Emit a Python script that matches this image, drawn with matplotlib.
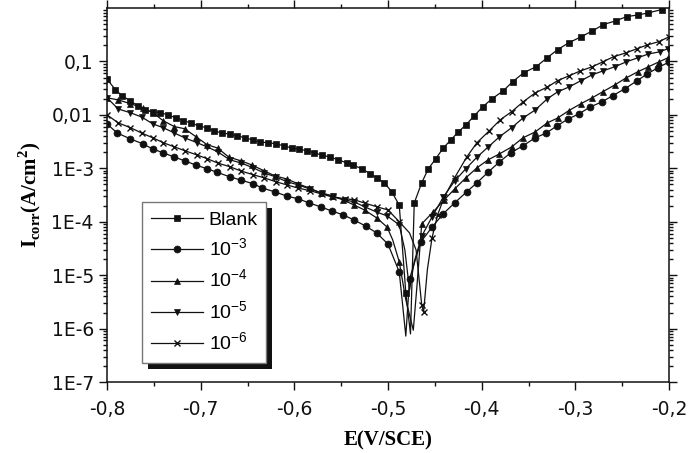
import numpy as np
import matplotlib
matplotlib.use("Agg")
import matplotlib.pyplot as plt
from matplotlib.ticker import FixedLocator, FixedFormatter, LogLocator, NullFormatter, MultipleLocator
from matplotlib.patches import Rectangle

plt.rcParams['mathtext.fontset'] = 'custom'
plt.rcParams['mathtext.rm'] = 'Liberation Sans'
plt.rcParams['mathtext.bf'] = 'Liberation Serif:bold'

# potentiel (V/SCE) et log10 du courant (A/cm2)
e_blank = [-0.800, -0.791, -0.784, -0.775, -0.767, -0.759, -0.751, -0.743, -0.735, -0.726,
           -0.719, -0.710, -0.702, -0.693, -0.686, -0.677, -0.669, -0.661, -0.653, -0.644,
           -0.637, -0.628, -0.620, -0.611, -0.603, -0.595, -0.587, -0.579, -0.571, -0.562,
           -0.553, -0.544, -0.537, -0.528, -0.519, -0.512, -0.504, -0.496, -0.488, -0.481,
           -0.476, -0.472, -0.464, -0.457, -0.449, -0.441, -0.433, -0.425, -0.417, -0.408,
           -0.399, -0.389, -0.377, -0.367, -0.355, -0.342, -0.330, -0.319, -0.307, -0.294,
           -0.282, -0.270, -0.257, -0.245, -0.233, -0.222, -0.208]
log_blank = [-1.33, -1.53, -1.64, -1.74, -1.83, -1.91, -1.94, -1.96, -2.00, -2.06,
             -2.11, -2.15, -2.21, -2.24, -2.30, -2.34, -2.36, -2.39, -2.43, -2.47,
             -2.51, -2.52, -2.54, -2.58, -2.62, -2.64, -2.67, -2.71, -2.75, -2.79,
             -2.84, -2.90, -2.94, -3.01, -3.10, -3.18, -3.27, -3.44, -3.69, -5.33,
             -6.10, -3.65, -3.27, -3.01, -2.82, -2.62, -2.47, -2.32, -2.19, -2.02,
             -1.85, -1.70, -1.55, -1.38, -1.21, -1.10, -0.93, -0.78, -0.65, -0.54,
             -0.43, -0.31, -0.24, -0.16, -0.13, -0.09, -0.03]

e_3 = [-0.800, -0.789, -0.775, -0.762, -0.751, -0.740, -0.728, -0.717, -0.705, -0.693,
       -0.683, -0.669, -0.657, -0.644, -0.634, -0.621, -0.608, -0.596, -0.584, -0.572,
       -0.560, -0.548, -0.536, -0.524, -0.512, -0.500, -0.488, -0.481, -0.477, -0.465,
       -0.453, -0.441, -0.429, -0.416, -0.405, -0.393, -0.381, -0.369, -0.356, -0.343,
       -0.331, -0.320, -0.308, -0.296, -0.284, -0.272, -0.260, -0.247, -0.234, -0.223,
       -0.212, -0.200]
log_3 = [-2.17, -2.34, -2.45, -2.54, -2.64, -2.71, -2.79, -2.86, -2.94, -3.01,
         -3.07, -3.16, -3.22, -3.29, -3.37, -3.44, -3.52, -3.57, -3.65, -3.72,
         -3.80, -3.87, -3.97, -4.08, -4.21, -4.42, -4.94, -6.14, -5.07, -4.38,
         -4.10, -3.85, -3.65, -3.44, -3.27, -3.07, -2.88, -2.71, -2.58, -2.43,
         -2.34, -2.21, -2.08, -1.98, -1.85, -1.76, -1.64, -1.51, -1.36, -1.23,
         -1.12, -1.01]

e_4 = [-0.800, -0.788, -0.775, -0.762, -0.751, -0.740, -0.728, -0.717, -0.705, -0.693,
       -0.682, -0.670, -0.657, -0.645, -0.632, -0.621, -0.608, -0.596, -0.584, -0.572,
       -0.560, -0.548, -0.536, -0.525, -0.512, -0.501, -0.495, -0.488, -0.481, -0.473,
       -0.469, -0.464, -0.452, -0.440, -0.429, -0.417, -0.405, -0.393, -0.381, -0.368,
       -0.356, -0.343, -0.330, -0.319, -0.307, -0.294, -0.282, -0.271, -0.258, -0.246,
       -0.233, -0.222, -0.211, -0.201]
log_4 = [-1.68, -1.72, -1.79, -1.87, -1.96, -2.11, -2.22, -2.26, -2.41, -2.56,
         -2.62, -2.79, -2.86, -2.94, -3.05, -3.14, -3.20, -3.29, -3.37, -3.46,
         -3.52, -3.59, -3.69, -3.78, -3.93, -4.10, -4.34, -4.75, -5.46, -6.03,
         -5.18, -4.04, -3.82, -3.59, -3.39, -3.18, -2.99, -2.84, -2.73, -2.60,
         -2.43, -2.32, -2.15, -2.06, -1.92, -1.79, -1.68, -1.57, -1.44, -1.31,
         -1.19, -1.10, -1.01, -0.93]

e_5 = [-0.800, -0.788, -0.775, -0.763, -0.751, -0.740, -0.728, -0.717, -0.704, -0.693,
       -0.682, -0.669, -0.657, -0.644, -0.632, -0.620, -0.608, -0.596, -0.583, -0.571,
       -0.559, -0.546, -0.536, -0.525, -0.512, -0.501, -0.488, -0.482, -0.477, -0.472,
       -0.464, -0.453, -0.441, -0.429, -0.417, -0.405, -0.393, -0.381, -0.368, -0.356,
       -0.343, -0.330, -0.319, -0.307, -0.294, -0.282, -0.271, -0.258, -0.246, -0.233,
       -0.222, -0.210, -0.201]
log_5 = [-1.68, -1.89, -1.96, -2.04, -2.17, -2.24, -2.34, -2.43, -2.52, -2.60,
         -2.69, -2.84, -2.90, -2.99, -3.09, -3.16, -3.25, -3.31, -3.39, -3.46,
         -3.52, -3.59, -3.63, -3.72, -3.82, -3.89, -4.06, -4.53, -5.28, -4.75,
         -4.27, -3.91, -3.54, -3.24, -3.01, -2.79, -2.60, -2.41, -2.24, -2.06,
         -1.91, -1.70, -1.57, -1.48, -1.36, -1.25, -1.18, -1.10, -1.01, -0.93,
         -0.86, -0.82, -0.76]

e_6 = [-0.800, -0.788, -0.775, -0.763, -0.751, -0.740, -0.728, -0.717, -0.704, -0.693,
       -0.682, -0.669, -0.657, -0.644, -0.632, -0.620, -0.608, -0.596, -0.583, -0.571,
       -0.559, -0.546, -0.536, -0.525, -0.512, -0.500, -0.488, -0.477, -0.470, -0.464,
       -0.462, -0.458, -0.453, -0.447, -0.440, -0.429, -0.416, -0.405, -0.392, -0.380,
       -0.368, -0.356, -0.343, -0.330, -0.319, -0.307, -0.295, -0.282, -0.271, -0.259,
       -0.246, -0.234, -0.223, -0.211, -0.200]
log_6 = [-2.00, -2.15, -2.24, -2.34, -2.43, -2.52, -2.60, -2.67, -2.75, -2.82,
         -2.90, -2.97, -3.05, -3.12, -3.18, -3.25, -3.31, -3.37, -3.42, -3.48,
         -3.54, -3.57, -3.59, -3.65, -3.72, -3.78, -4.00, -4.21, -4.53, -5.56,
         -5.69, -4.90, -4.30, -3.87, -3.54, -3.18, -2.79, -2.52, -2.30, -2.09,
         -1.94, -1.76, -1.59, -1.48, -1.36, -1.27, -1.18, -1.10, -1.01, -0.91,
         -0.84, -0.76, -0.69, -0.63, -0.54]

labels = ['Blank', '10$^{-3}$', '10$^{-4}$', '10$^{-5}$', '10$^{-6}$']

series = [
    (e_blank, log_blank, 's', 4.5, [40]),
    (e_3, log_3, 'o', 5.0, [27]),
    (e_4, log_4, '^', 5.0, [26, 28, 29, 30]),
    (e_5, log_5, 'v', 5.0, [27, 28, 29]),
    (e_6, log_6, 'x', 5.0, [27, 28, 31]),
]

fig = plt.figure(figsize=(6.89, 4.53), dpi=100)
ax = fig.add_axes([0.1553, 0.1567, 0.8157, 0.8256])

for (e, logi, mk, ms, skip), lab in zip(series, labels):
    marks = [i for i in range(len(e)) if i not in skip]
    ax.plot(e, 10 ** np.array(logi), color='#111111', lw=0.9, marker=mk, ms=ms,
            markevery=marks, mew=1.0 if mk == 'x' else 0.5, label=lab)

ax.set_yscale('log')
ax.set_xlim(-0.8, -0.2)
ax.set_ylim(1e-7, 1)

ax.xaxis.set_major_locator(FixedLocator([-0.8, -0.7, -0.6, -0.5, -0.4, -0.3, -0.2]))
ax.xaxis.set_major_formatter(FixedFormatter(['-0,8', '-0,7', '-0,6', '-0,5', '-0,4', '-0,3', '-0,2']))
ax.xaxis.set_minor_locator(MultipleLocator(0.05))
ax.yaxis.set_major_locator(FixedLocator([1e-7, 1e-6, 1e-5, 1e-4, 1e-3, 1e-2, 1e-1]))
ax.yaxis.set_major_formatter(FixedFormatter(['1E-7', '1E-6', '1E-5', '1E-4', '1E-3', '0,01', '0,1']))
ax.yaxis.set_minor_locator(LogLocator(base=10, subs=np.arange(2, 10), numticks=20))
ax.yaxis.set_minor_formatter(NullFormatter())

ax.tick_params(which='both', direction='out', top=True, right=True, width=1.0,
               labelsize=13.5, labelfontfamily='DejaVu Sans', colors='#111111')
ax.tick_params(which='major', length=6)
ax.tick_params(which='minor', length=3)
ax.tick_params(axis='x', pad=7)
for sp in ax.spines.values():
    sp.set_linewidth(1.1)
    sp.set_color('#111111')

ax.set_xlabel('E(V/SCE)', family='Liberation Serif', fontweight='bold', fontsize=15, labelpad=8)
ax.set_ylabel(r'I$_{\mathbf{corr}}$(A/cm$^{\mathbf{2}}$)', family='Liberation Serif',
              fontweight='bold', fontsize=15, labelpad=6)

leg = ax.legend(loc='lower left', bbox_to_anchor=(0.062, 0.051), borderaxespad=0,
                fancybox=False, framealpha=1, edgecolor='#777777',
                prop={'family': 'Liberation Sans', 'size': 14},
                handlelength=2.7, labelspacing=0.45, borderpad=0.45, handletextpad=0.28)
leg.get_frame().set_linewidth(1.0)

# ombre noire derrière la légende
fig.canvas.draw()
bb = leg.get_window_extent().transformed(ax.transAxes.inverted())
dx = 6 / (ax.bbox.width)
dy = 6 / (ax.bbox.height)
ax.add_patch(Rectangle((bb.x0 + dx, bb.y0 - dy), bb.width, bb.height, transform=ax.transAxes,
                       facecolor='#111111', edgecolor='none', zorder=4.5, clip_on=False))

fig.savefig('out.png', dpi=100)
